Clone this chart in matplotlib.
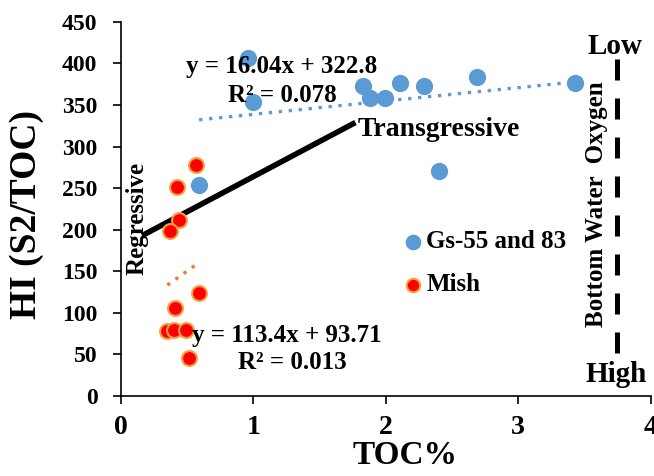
import matplotlib
matplotlib.use("Agg")
import matplotlib.pyplot as plt
import numpy as np

plt.rcParams['font.family'] = ['Liberation Serif', 'DejaVu Serif']
plt.rcParams['font.weight'] = 'bold'

# Data
gs_toc = [0.96, 1.00, 0.59, 1.83, 1.88, 1.99, 2.11, 2.29, 2.69, 3.43, 2.40]
gs_hi = [407, 354, 254, 373, 359, 359, 377, 373, 384, 377, 271]
mish_toc = [0.57, 0.42, 0.44, 0.37, 0.59, 0.41, 0.35, 0.40, 0.49, 0.51]
mish_hi = [278, 251, 212, 198, 124, 106, 78, 79, 79, 46]
gs_fit = (16.04, 322.8)
mish_fit = (113.4, 93.71)
trans_x = [0.16, 1.77]
trans_y = [193, 329]
oxy_x = 3.745
oxy_y = [405, 43]
x_ticks = [0, 1, 2, 3, 4]
y_ticks = list(range(0, 451, 50))

fig = plt.figure(figsize=(6.54, 4.76), dpi=100)
ax = fig.add_axes([0.185, 0.168, 0.81, 0.786])

ax.scatter(gs_toc, gs_hi, s=130, color='#5B9BD5', edgecolor='#5B9BD5', zorder=3, label='Gs-55 and 83')
ax.scatter(mish_toc, mish_hi, s=115, color='#FF0000', edgecolor='#F4A040', linewidth=1.5, zorder=3, label='Mish')

xg = np.array([min(gs_toc), max(gs_toc)])
ax.plot(xg, gs_fit[0] * xg + gs_fit[1], color='#5B9BD5', linestyle=(0, (1, 2)), linewidth=2.4, zorder=2)
xm = np.array([min(mish_toc), max(mish_toc)])
ax.plot(xm, mish_fit[0] * xm + mish_fit[1], color='#ED7D31', linestyle=(0, (1, 2)), linewidth=2.4, zorder=2)

ax.plot(trans_x, trans_y, color='black', linewidth=4, solid_capstyle='butt', zorder=2)
ax.plot([oxy_x, oxy_x], oxy_y, color='black', linewidth=3.6, linestyle=(0, (4.2, 3.6)), zorder=2)

ax.set_xlim(0, 4)
ax.set_ylim(0, 450)
ax.set_xticks(x_ticks)
ax.set_yticks(y_ticks)
ax.tick_params(axis='both', direction='out', length=6, width=1.2)
ax.tick_params(axis='y', labelsize=17, pad=11)
ax.tick_params(axis='x', labelsize=20, pad=8)
for lab in ax.get_xticklabels() + ax.get_yticklabels():
    lab.set_fontweight('bold')
ax.spines['top'].set_visible(False)
ax.spines['right'].set_visible(False)
ax.spines['left'].set_linewidth(1.2)
ax.spines['bottom'].set_linewidth(1.2)

ax.set_xlabel('TOC%', fontsize=24, fontweight='bold')
ax.xaxis.set_label_coords(0.536, -0.118)
ax.set_ylabel('HI (S2/TOC)', fontsize=27, fontweight='bold')
ax.yaxis.set_label_coords(-0.145, 0.484)

ax.text(1.215, 396, 'y = 16.04x + 322.8', fontsize=18, fontweight='bold', ha='center', va='center')
ax.text(1.215, 362, 'R² = 0.078', fontsize=18, fontweight='bold', ha='center', va='center')
ax.text(1.25, 73, 'y = 113.4x + 93.71', fontsize=18, fontweight='bold', ha='center', va='center')
ax.text(1.29, 40, 'R² = 0.013', fontsize=18, fontweight='bold', ha='center', va='center')
ax.text(1.79, 320, 'Transgressive', fontsize=20, fontweight='bold', ha='left', va='center')
ax.text(0.12, 214, 'Regressive', fontsize=18, fontweight='bold', rotation=90, ha='center', va='center')
ax.text(3.73, 421, 'Low', fontsize=21, fontweight='bold', ha='center', va='center')
ax.text(3.74, 26, 'High', fontsize=21, fontweight='bold', ha='center', va='center')
ax.text(3.59, 231, 'Bottom Water  Oxygen', fontsize=18, fontweight='bold', rotation=90, ha='center', va='center')

leg = ax.legend(loc='upper left', bbox_to_anchor=(0.485, 0.47), frameon=False, fontsize=18,
                handletextpad=-0.46, labelspacing=0.8, markerscale=0.9, borderaxespad=0)
for t in leg.get_texts():
    t.set_fontweight('bold')

fig.savefig('out.png', dpi=100)
